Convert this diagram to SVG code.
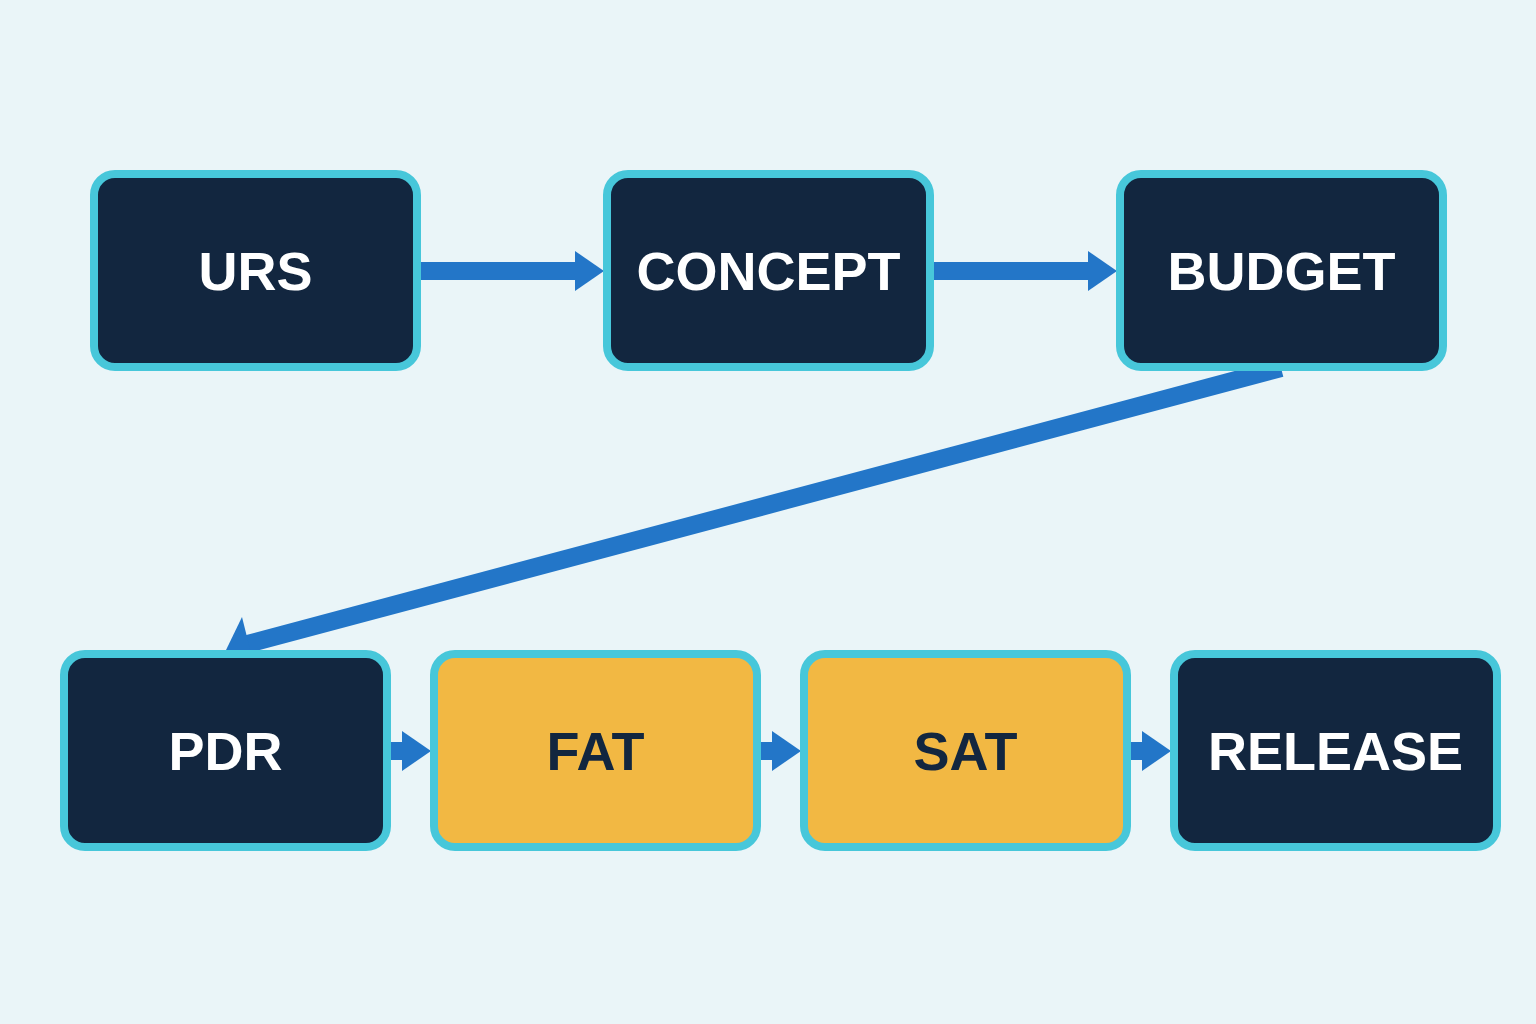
<svg xmlns="http://www.w3.org/2000/svg" width="1536" height="1024" viewBox="0 0 1536 1024">
  <style>
    .box { stroke: #47C7DA; stroke-width: 8; }
    .dark { fill: #12263F; }
    .gold { fill: #F2B843; }
    .lbl { font-family: "Liberation Sans", Arial, sans-serif; font-weight: bold; font-size: 54px; text-anchor: middle; }
    .lw { fill: #FFFFFF; }
    .ld { fill: #12263F; }
    .conn { stroke: #2376C8; stroke-width: 18; fill: none; }
    .head { fill: #2376C8; }
  </style>
  <rect width="1536" height="1024" fill="#EAF5F8"/>

  <g id="connectors">
    <line class="conn" x1="421" y1="271" x2="590" y2="271"/>
    <polygon class="head" points="575,251 604,271 575,291"/>
    <line class="conn" x1="934" y1="271" x2="1100" y2="271"/>
    <polygon class="head" points="1088,251 1117,271 1088,291"/>
    <line class="conn" x1="1281" y1="368" x2="240" y2="646"/>
    <polygon class="head" points="226,650 242,617 252,657"/>
    <line class="conn" x1="391" y1="751" x2="415" y2="751"/>
    <polygon class="head" points="402,731 431,751 402,771"/>
    <line class="conn" x1="761" y1="751" x2="785" y2="751"/>
    <polygon class="head" points="772,731 801,751 772,771"/>
    <line class="conn" x1="1131" y1="751" x2="1155" y2="751"/>
    <polygon class="head" points="1142,731 1171,751 1142,771"/>
  </g>

  <g id="node-urs">
    <rect class="box dark" x="94" y="174" width="323" height="193" rx="21"/>
    <text class="lbl lw" x="255.5" y="289.5">URS</text>
  </g>
  <g id="node-concept">
    <rect class="box dark" x="607" y="174" width="323" height="193" rx="21"/>
    <text class="lbl lw" x="768.5" y="289.5">CONCEPT</text>
  </g>
  <g id="node-budget">
    <rect class="box dark" x="1120" y="174" width="323" height="193" rx="21"/>
    <text class="lbl lw" x="1281.5" y="289.5">BUDGET</text>
  </g>
  <g id="node-pdr">
    <rect class="box dark" x="64" y="654" width="323" height="193" rx="21"/>
    <text class="lbl lw" x="225.5" y="769.5">PDR</text>
  </g>
  <g id="node-fat">
    <rect class="box gold" x="434" y="654" width="323" height="193" rx="21"/>
    <text class="lbl ld" x="595.5" y="769.5">FAT</text>
  </g>
  <g id="node-sat">
    <rect class="box gold" x="804" y="654" width="323" height="193" rx="21"/>
    <text class="lbl ld" x="965.5" y="769.5">SAT</text>
  </g>
  <g id="node-release">
    <rect class="box dark" x="1174" y="654" width="323" height="193" rx="21"/>
    <text class="lbl lw" x="1335.5" y="769.5">RELEASE</text>
  </g>
</svg>
